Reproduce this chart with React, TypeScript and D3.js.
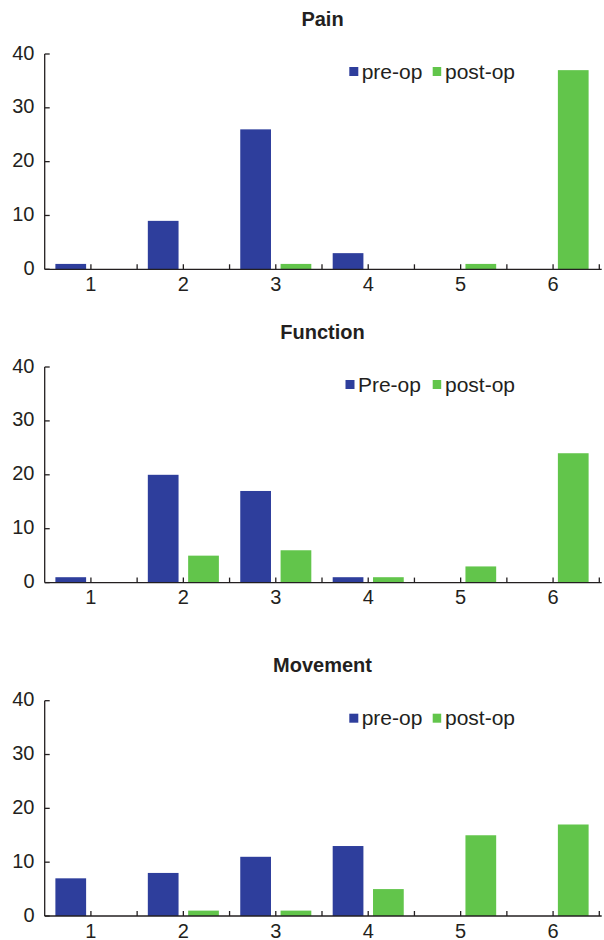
import React from "react";
import * as d3 from "d3";

const categories = ["1", "2", "3", "4", "5", "6"];
const series = ["pre", "post"];
const yTicks = [0, 10, 20, 30, 40];

const painPre = [1, 9, 26, 3, 0, 0];
const painPost = [0, 0, 1, 0, 1, 37];
const functionPre = [1, 20, 17, 1, 0, 0];
const functionPost = [0, 5, 6, 1, 3, 24];
const movementPre = [7, 8, 11, 13, 0, 0];
const movementPost = [0, 1, 1, 5, 15, 17];

const panelTitles = ["Pain", "Function", "Movement"];
const legendLabels = [
  ["pre-op", "post-op"],
  ["Pre-op", "post-op"],
  ["pre-op", "post-op"],
];

const BLUE = "#2E3E9C";
const GREEN = "#62C54B";
const INK = "#231F20";
const FONT = "'Liberation Sans', Arial, Helvetica, sans-serif";

const X0 = 44.7;
const X1 = 599.3;

type PanelProps = {
  title: string;
  pre: number[];
  post: number[];
  top: number;
  bottom: number;
  legend: string[];
  legendX: number;
};

function Panel({ title, pre, post, top, bottom, legend, legendX }: PanelProps) {
  const x = d3.scaleBand<string>().domain(categories).range([X0, X1]).padding(0);
  const xs = d3
    .scaleBand<string>()
    .domain(series)
    .range([0, x.bandwidth()])
    .paddingInner(0.238)
    .paddingOuter(0.265);
  const y = d3.scaleLinear().domain([0, 40]).range([bottom, top]);
  const vals: Record<string, number[]> = { pre, post };
  const colors: Record<string, string> = { pre: BLUE, post: GREEN };

  const tickXs: number[] = [];
  categories.forEach((c) => {
    tickXs.push((x(c) as number) + x.bandwidth() / 2);
    tickXs.push((x(c) as number) + x.bandwidth());
  });

  const ly = top + 17.5;
  return (
    <g>
      <text
        x={322.5}
        y={top - 28.5}
        textAnchor="middle"
        fontFamily={FONT}
        fontWeight="bold"
        fontSize={20}
        fill={INK}
      >
        {title}
      </text>
      {categories.map((c, i) =>
        series.map((s) => {
          const v = vals[s][i];
          if (!v) return null;
          return (
            <rect
              key={c + s}
              x={(x(c) as number) + (xs(s) as number)}
              y={y(v)}
              width={xs.bandwidth()}
              height={y(0) - y(v)}
              fill={colors[s]}
            />
          );
        })
      )}
      {/* y axis */}
      <line x1={X0} x2={X0} y1={y(40)} y2={y(0)} stroke={INK} strokeWidth={1.3} />
      {yTicks.map((t) => (
        <g key={t}>
          <line x1={X0} x2={X0 + 5} y1={y(t)} y2={y(t)} stroke={INK} strokeWidth={1.3} />
          <text
            x={34.5}
            y={y(t) + 5.5}
            textAnchor="end"
            fontFamily={FONT}
            fontSize={20}
            fill={INK}
          >
            {t}
          </text>
        </g>
      ))}
      {/* x axis */}
      <line x1={X0} x2={X1 + 2.4} y1={y(0)} y2={y(0)} stroke={INK} strokeWidth={1.3} />
      {tickXs.map((tx, i) => (
        <line key={i} x1={tx} x2={tx} y1={y(0)} y2={y(0) - 5} stroke={INK} strokeWidth={1.3} />
      ))}
      {categories.map((c) => (
        <text
          key={c}
          x={(x(c) as number) + x.bandwidth() / 2}
          y={y(0) + 21.5}
          textAnchor="middle"
          fontFamily={FONT}
          fontSize={20}
          fill={INK}
        >
          {c}
        </text>
      ))}
      {/* legend */}
      <rect x={legendX} y={ly - 4.5} width={9} height={9} fill={BLUE} />
      <text x={legendX + 12.4} y={ly + 7} fontFamily={FONT} fontSize={21} fill={INK}>
        {legend[0]}
      </text>
      <rect x={432.7} y={ly - 4.5} width={8.5} height={9} fill={GREEN} />
      <text x={445} y={ly + 7} fontFamily={FONT} fontSize={21} fill={INK}>
        {legend[1]}
      </text>
    </g>
  );
}

export default function App() {
  const panels = [
    { pre: painPre, post: painPost, top: 54, bottom: 269.3, legendX: 349.3 },
    { pre: functionPre, post: functionPost, top: 367, bottom: 582.6, legendX: 345.5 },
    { pre: movementPre, post: movementPost, top: 700.7, bottom: 916, legendX: 349.3 },
  ];
  return (
    <svg
      width={604}
      height={940}
      style={{ position: "absolute", left: 0, top: 0, background: "#fff" }}
    >
      <rect x={0} y={0} width={604} height={940} fill="#fff" />
      {panels.map((p, i) => (
        <Panel
          key={i}
          title={panelTitles[i]}
          pre={p.pre}
          post={p.post}
          top={p.top}
          bottom={p.bottom}
          legend={legendLabels[i]}
          legendX={p.legendX}
        />
      ))}
    </svg>
  );
}
